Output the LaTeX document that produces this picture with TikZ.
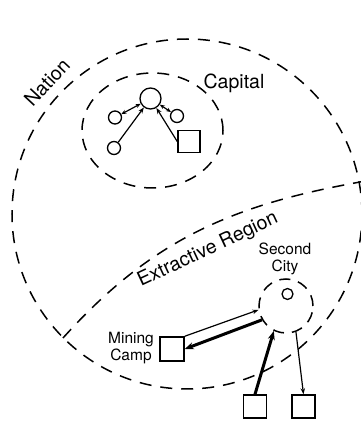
\documentclass[tikz,border=0pt]{standalone}
\usepackage{fontspec}
\setmainfont{TeX Gyre Heros}
\usetikzlibrary{arrows.meta,positioning}

\begin{document}
\begin{tikzpicture}[
    x=1pt, y=1pt,
    region/.style={
        draw=black,
        line width=1.5pt,
        dash pattern=on 12pt off 9pt
    },
    place/.style={
        circle,
        draw=black,
        line width=1.3pt,
        inner sep=0pt,
        minimum size=13pt
    },
    site/.style={
        rectangle,
        draw=black,
        line width=1.5pt,
        inner sep=0pt,
        minimum size=23pt
    },
    thinlink/.style={line width=1.2pt, -{Stealth[length=6pt,width=4.5pt]}},
    duallink/.style={line width=1.2pt, {Stealth[length=5pt,width=4pt]}-{Stealth[length=5pt,width=4pt]}},
    thicklink/.style={line width=3pt, -{Stealth[length=9pt,width=7pt]}},
    biglabel/.style={font=\fontsize{19.5}{21}\selectfont, inner sep=0pt},
    smalllabel/.style={font=\fontsize{15.5}{16.5}\selectfont, align=center, inner sep=0pt}
]

    % frame
    \useasboundingbox (0,0) rectangle (361,424);
    \fill[white] (0,0) rectangle (361,424);

    % Nation and Extractive Region
    \draw[region] (187,210) circle[radius=175];
    \coordinate (rimw) at (63,86);
    \coordinate (rime) at (363,242.5);
    \draw[region] (rimw) to[out=48, in=190] (rime);
    \node[biglabel, rotate=47] (nationlabel) at (47,342) {Nation};
    \node[biglabel, rotate=25] (extlabel) at (208,174) {Extractive Region};

    % Capital
    \draw[region] (152.5,293.5) ellipse[x radius=70.5, y radius=57.5];
    \node[biglabel] (capitallabel) at (234,341) {Capital};
    \node[place, minimum size=21pt] (capcore) at (150.5,325.5) {};
    \node[place] (capw) at (115,306.5) {};
    \node[place] (cape) at (177,308) {};
    \node[place] (capsw) at (114,276) {};
    \node[site, minimum size=22pt] (capsite) at (189,282.5) {};

    \draw[duallink] (capw) -- (capcore);
    \draw[duallink] (cape) -- (capcore);
    \draw[thinlink] (capsw) -- (capcore);
    \draw[thinlink] (capsite.west) -- (capcore);

    % Second City
    \node[circle, draw=black, line width=1.5pt, dash pattern=on 11pt off 8pt,
          minimum size=54pt, inner sep=0pt] (scity) at (286,118) {};
    \node[place, minimum size=11pt] (shub) at (287.5,130) {};
    \node[smalllabel] (scitylabel) at (285,165) {Second\\City};

    % Mining Camp and the two squares below
    \node[site, minimum size=24pt] (mine) at (172,75) {};
    \node[smalllabel] (minelabel) at (131,76) {Mining\\Camp};
    \node[site] (outa) at (255,17.5) {};
    \node[site] (outb) at (303.5,17.5) {};

    \draw[thinlink] (mine.north east) -- (scity.188);
    \draw[thicklink] (scity.210) -- (mine.east);
    \draw[thicklink] (outa.north) -- (scity.244);
    \draw[thinlink] (scity.291) -- (outb.north);

\end{tikzpicture}
\end{document}
